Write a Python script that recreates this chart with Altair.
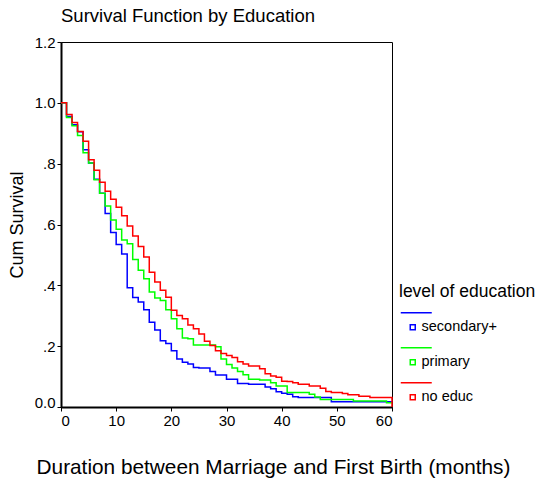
import altair as alt
import pandas as pd

months = list(range(61))

secondary = [1.000, 0.955, 0.928, 0.905, 0.846, 0.802, 0.749, 0.703, 0.636, 0.574,
             0.534, 0.503, 0.392, 0.360, 0.345, 0.320, 0.279, 0.253, 0.218, 0.209,
             0.185, 0.158, 0.147, 0.141, 0.130, 0.128, 0.128, 0.117, 0.105, 0.105,
             0.091, 0.091, 0.077, 0.077, 0.075, 0.075, 0.075, 0.066, 0.060, 0.050,
             0.045, 0.042, 0.034, 0.031, 0.031, 0.031, 0.031, 0.031, 0.031, 0.017,
             0.017, 0.017, 0.017, 0.017, 0.017, 0.017, 0.017, 0.017, 0.017, 0.017,
             0.017]

primary = [1.000, 0.952, 0.925, 0.893, 0.836, 0.802, 0.747, 0.703, 0.661, 0.615,
           0.584, 0.549, 0.537, 0.485, 0.450, 0.422, 0.378, 0.358, 0.350, 0.320,
           0.290, 0.257, 0.227, 0.224, 0.204, 0.204, 0.204, 0.204, 0.198, 0.158,
           0.140, 0.128, 0.117, 0.106, 0.091, 0.091, 0.089, 0.089, 0.080, 0.069,
           0.069, 0.048, 0.048, 0.048, 0.048, 0.042, 0.033, 0.025, 0.025, 0.025,
           0.025, 0.025, 0.025, 0.020, 0.020, 0.020, 0.020, 0.020, 0.020, 0.014,
           0.014]

no_educ = [1.000, 0.962, 0.935, 0.906, 0.874, 0.813, 0.778, 0.739, 0.709, 0.683,
           0.657, 0.629, 0.595, 0.562, 0.528, 0.493, 0.443, 0.411, 0.384, 0.361,
           0.318, 0.301, 0.290, 0.270, 0.257, 0.240, 0.216, 0.202, 0.185, 0.176,
           0.169, 0.163, 0.149, 0.141, 0.135, 0.135, 0.126, 0.109, 0.102, 0.098,
           0.085, 0.084, 0.080, 0.075, 0.075, 0.069, 0.069, 0.062, 0.051, 0.048,
           0.048, 0.044, 0.040, 0.040, 0.035, 0.035, 0.031, 0.031, 0.031, 0.031,
           0.000]

groups = ["secondary+", "primary", "no educ"]
colors = ["#0000ff", "#00ff00", "#ff0000"]
x_ticks = [0, 10, 20, 30, 40, 50, 60]
y_ticks = [0.0, 0.2, 0.4, 0.6, 0.8, 1.0, 1.2]

rows = []
for g, vals in zip(groups, [secondary, primary, no_educ]):
    for m, v in zip(months, vals):
        rows.append({"month": m, "surv": v, "group": g})
df = pd.DataFrame(rows)

FONT = "Liberation Sans, Arial, Helvetica, sans-serif"
legend_symbol = "M-2.2,-5.84L10.2,-5.84M1.6,-1L3.6,-1L3.6,1L1.6,1Z"

chart = alt.Chart(df).mark_line(interpolate="step-after", strokeWidth=1.5).encode(
    x=alt.X("month:Q",
            scale=alt.Scale(domain=[0, 60], nice=False, zero=False),
            axis=alt.Axis(values=x_ticks, format="d",
                          title="Duration between Marriage and First Birth (months)",
                          titleX=212, titleY=60, titleAlign="center",
                          titleBaseline="middle", titleFontSize=20.8)),
    y=alt.Y("surv:Q",
            scale=alt.Scale(domain=[0, 1.2], nice=False),
            axis=alt.Axis(values=y_ticks,
                          labelExpr="datum.value == 0 ? '0.0' : (datum.value >= 1 ? format(datum.value, '.1f') : replace(format(datum.value, '.1f'), '0.', '.'))",
                          labelBaseline={"condition": {"test": "datum.value == 0", "value": "alphabetic"}, "value": "middle"},
                          title="Cum Survival", titleX=-44, titleBaseline="middle",
                          titleFontSize=18)),
    color=alt.Color("group:N",
                    scale=alt.Scale(domain=groups, range=colors),
                    sort=groups,
                    legend=alt.Legend(title="level of education", orient="none",
                                      legendX=338, legendY=241,
                                      symbolType=legend_symbol, symbolSize=25,
                                      symbolStrokeWidth=1.5, symbolFillColor="white",
                                      labelOffset=8, rowPadding=10, titlePadding=19.5,
                                      padding=0)),
).properties(
    width=331,
    height=365,
    title=alt.Title("Survival Function by Education", anchor="start", frame="group",
                    fontSize=18.5, fontWeight="normal", font=FONT, color="black",
                    offset=10),
    autosize=alt.AutoSizeParams(type="none"),
    padding={"left": 53, "top": 34, "right": 145, "bottom": 72},
).configure_view(
    stroke="black", strokeWidth=1
).configure_axis(
    domainColor="black", domainWidth=2, tickColor="black", tickSize=4, tickWidth=1,
    labelColor="black", labelFont=FONT, labelFontSize=15, labelPadding=2,
    titleColor="black", titleFont=FONT, titleFontWeight="normal", grid=False
).configure_legend(
    titleFont=FONT, titleFontSize=17.5, titleFontWeight="normal", titleColor="black",
    labelFont=FONT, labelFontSize=14.5, labelColor="black"
)

chart.save("out.html", embed_options={"renderer": "svg", "actions": False})
